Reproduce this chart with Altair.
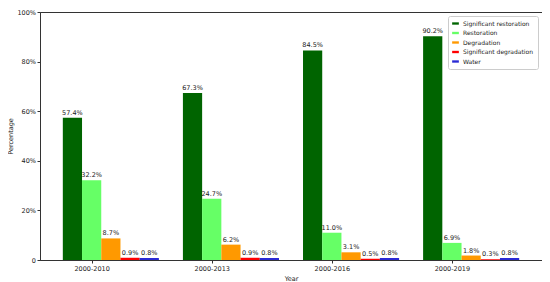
import altair as alt
import pandas as pd

years = ["2000-2010", "2000-2013", "2000-2016", "2000-2019"]
series = ["Significant restoration", "Restoration", "Degradation",
          "Significant degradation", "Water"]
colors = ["#006400", "#66ff66", "#ff9900", "#ff0000", "#2a2ad4"]

sig_restoration = [57.4, 67.3, 84.5, 90.2]
restoration = [32.2, 24.7, 11.0, 6.9]
degradation = [8.7, 6.2, 3.1, 1.8]
sig_degradation = [0.9, 0.9, 0.5, 0.3]
water = [0.8, 0.8, 0.8, 0.8]

values = [sig_restoration, restoration, degradation, sig_degradation, water]

rows = []
for si, (name, vals) in enumerate(zip(series, values)):
    for gi, (yr, v) in enumerate(zip(years, vals)):
        rows.append({"year": yr, "gi": gi, "series": name, "si": si, "value": v})
df = pd.DataFrame(rows)

BW = 0.16
FONT = "DejaVu Sans"

label_expr = "[" + ",".join(f"'{y}'" for y in years) + "][datum.value]"

base = alt.Chart(df).transform_calculate(
    x0=f"datum.gi + (datum.si - 1.5) * {BW}",
    x1=f"datum.gi + (datum.si - 0.5) * {BW}",
    xc=f"datum.gi + (datum.si - 1) * {BW}",
    lbl="format(datum.value, '.1f') + '%'",
)

xscale = alt.Scale(domain=[-0.43, 3.75], nice=False, zero=False)
yscale = alt.Scale(domain=[0, 100], nice=False)

bars = base.mark_bar().encode(
    x=alt.X("x0:Q", scale=xscale,
            axis=alt.Axis(values=[0, 1, 2, 3], labelExpr=label_expr, title="Year",
                          grid=False, tickSize=3, labelFontSize=6.5, titleFontSize=6.5,
                          titleFontWeight="normal", labelPadding=2, titlePadding=4,
                          domainColor="#333", tickColor="#333", labelColor="#222",
                          titleColor="#222", labelFont=FONT, titleFont=FONT,
                          labelFlush=False)),
    x2="x1:Q",
    y=alt.Y("value:Q", scale=yscale,
            axis=alt.Axis(values=[0, 20, 40, 60, 80, 100],
                          labelExpr="datum.value == 0 ? '0' : datum.value + '%'",
                          title="Percentage", grid=False, tickSize=3, labelFontSize=6.5,
                          titleFontSize=6.5, titleFontWeight="normal", labelPadding=1.5,
                          titlePadding=3, domainColor="#333", tickColor="#333",
                          labelColor="#222", titleColor="#222", labelFont=FONT,
                          titleFont=FONT, labelFlush=False)),
    y2=alt.datum(0),
    color=alt.Color("series:N", scale=alt.Scale(domain=series, range=colors),
                    sort=series,
                    legend=alt.Legend(title=None, orient="top-right", offset=4,
                                      symbolType="M-1,-0.35L1,-0.35L1,0.35L-1,0.35Z",
                                      symbolSize=45, symbolStrokeWidth=0,
                                      labelFontSize=6, labelFont=FONT, labelColor="#222",
                                      rowPadding=2.5, padding=4, strokeColor="#cccccc",
                                      fillColor="white", cornerRadius=2, labelOffset=4)),
)

texts = base.mark_text(dy=-5, fontSize=6.5, font=FONT, color="#222").encode(
    x=alt.X("xc:Q", scale=xscale),
    y=alt.Y("value:Q", scale=yscale),
    text="lbl:N",
)

chart = alt.layer(bars, texts).properties(
    width=502, height=248,
    autosize=alt.AutoSizeParams(type="none"),
    padding={"left": 32, "top": 4, "right": 0, "bottom": 22},
).configure_view(stroke="#333", strokeWidth=1)

chart.save("out.html", embed_options={"renderer": "svg", "actions": False})
